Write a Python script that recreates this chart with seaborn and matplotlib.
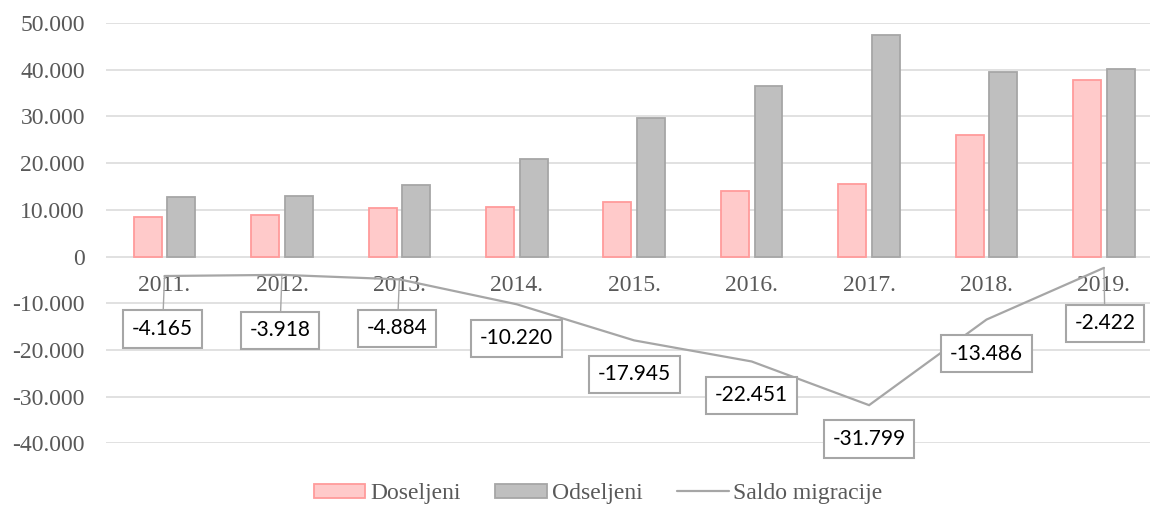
#!/usr/bin/env python3
"""Doseljeni / odseljeni i saldo migracije, 2011.-2019."""

import numpy as np
import pandas as pd
import matplotlib
matplotlib.use("Agg")
import matplotlib.pyplot as plt
from matplotlib.patches import Patch
from matplotlib.lines import Line2D
from matplotlib.ticker import FuncFormatter
import seaborn as sns

# Data
godine = ["2011.", "2012.", "2013.", "2014.", "2015.", "2016.", "2017.", "2018.", "2019."]
doseljeni = [8550, 8970, 10350, 10700, 11700, 14000, 15600, 26000, 37800]
odseljeni = [12715, 12888, 15234, 20920, 29645, 36451, 47399, 39486, 40222]
saldo = [-4165, -3918, -4884, -10220, -17945, -22451, -31799, -13486, -2422]
serije = ["Doseljeni", "Odseljeni"]
saldo_naziv = "Saldo migracije"

# Colours
PINK_FILL = "#FFCACA"
PINK_EDGE = "#FF9B9B"
GRAY_FILL = "#BFBFBF"
GRAY_EDGE = "#A6A6A6"
LINE_COL = "#A6A6A6"
TEXT_COL = "#595959"
GRID_COL = "#D9D9D9"

# label offsets from the point, in pixels (dx right, dy down) and leader flags
label_offsets = [(-2, 53), (-2, 55.5), (-2, 49), (0, 34), (0, 34), (0, 34), (0, 34), (0, 34), (1, 55.5)]
leaders = [True, True, True, False, False, False, False, False, True]


def thousands(v, pos=None):
    return f"{int(round(v)):,}".replace(",", ".")


sns.set_style("white")
plt.rcParams["font.family"] = ["Liberation Serif", "DejaVu Serif"]

df = pd.DataFrame({
    "godina": godine * 2,
    "grupa": [serije[0]] * len(godine) + [serije[1]] * len(godine),
    "vrijednost": doseljeni + odseljeni,
})

fig = plt.figure(figsize=(11.5, 5.08), dpi=100)
ax = fig.add_axes([0.092, 0.127, 0.919, 0.828])

sns.barplot(data=df, x="godina", y="vrijednost", hue="grupa", order=godine,
            hue_order=serije, palette=[PINK_FILL, GRAY_FILL], saturation=1,
            width=0.573, gap=0.17, ax=ax, legend=False, err_kws={"linewidth": 0})

for cont, edge in zip(ax.containers, [PINK_EDGE, GRAY_EDGE]):
    for bar in cont:
        bar.set_edgecolor(edge)
        bar.set_linewidth(1.3)
        bar.set_zorder(2)

xs = np.arange(len(godine))
ax.plot(xs, saldo, color=LINE_COL, lw=1.6, zorder=3, solid_joinstyle="miter")

# data labels in boxes
for i, v in enumerate(saldo):
    dx, dy = label_offsets[i]
    arrow = dict(arrowstyle="-", color=LINE_COL, lw=1.0, shrinkA=0, shrinkB=0) if leaders[i] else None
    ax.annotate(thousands(v), xy=(i, v), xytext=(dx * 0.72, -dy * 0.72),
                textcoords="offset points", ha="center", va="center",
                fontsize=15, family=["Lato", "DejaVu Sans"], color="black",
                bbox=dict(boxstyle="square,pad=0.42", fc="white", ec=LINE_COL, lw=1.5),
                arrowprops=arrow, zorder=5)

ax.set_xlim(-0.5, len(godine) - 0.5)
ax.set_ylim(-40000, 50000)
ax.set_yticks(np.arange(-40000, 50001, 10000))
ax.yaxis.set_major_formatter(FuncFormatter(thousands))
ax.set_xticks(xs)
ax.set_xticklabels(godine)

ax.yaxis.grid(True, color=GRID_COL, lw=1.1)
ax.xaxis.grid(False)
ax.set_axisbelow(True)
for s in ["top", "right", "left"]:
    ax.spines[s].set_visible(False)
ax.spines["bottom"].set_position(("data", 0))
ax.spines["bottom"].set_visible(False)

ax.tick_params(axis="x", length=0, pad=13.5, labelsize=17, labelcolor=TEXT_COL)
ax.tick_params(axis="y", length=0, pad=15, labelsize=17, labelcolor=TEXT_COL)
ax.set_xlabel("")
ax.set_ylabel("")

handles = [
    Patch(facecolor=PINK_FILL, edgecolor=PINK_EDGE, lw=1.3),
    Patch(facecolor=GRAY_FILL, edgecolor=GRAY_EDGE, lw=1.3),
    Line2D([0], [0], color=LINE_COL, lw=1.6),
]
fig.legend(handles, serije + [saldo_naziv], loc="center", bbox_to_anchor=(0.52, 0.028),
           ncol=3, frameon=False, fontsize=17, labelcolor=TEXT_COL,
           handlelength=2.2, handleheight=0.58, handletextpad=0.2, columnspacing=1.45,
           borderaxespad=0)

fig.savefig("out.png", dpi=100)
plt.close(fig)
